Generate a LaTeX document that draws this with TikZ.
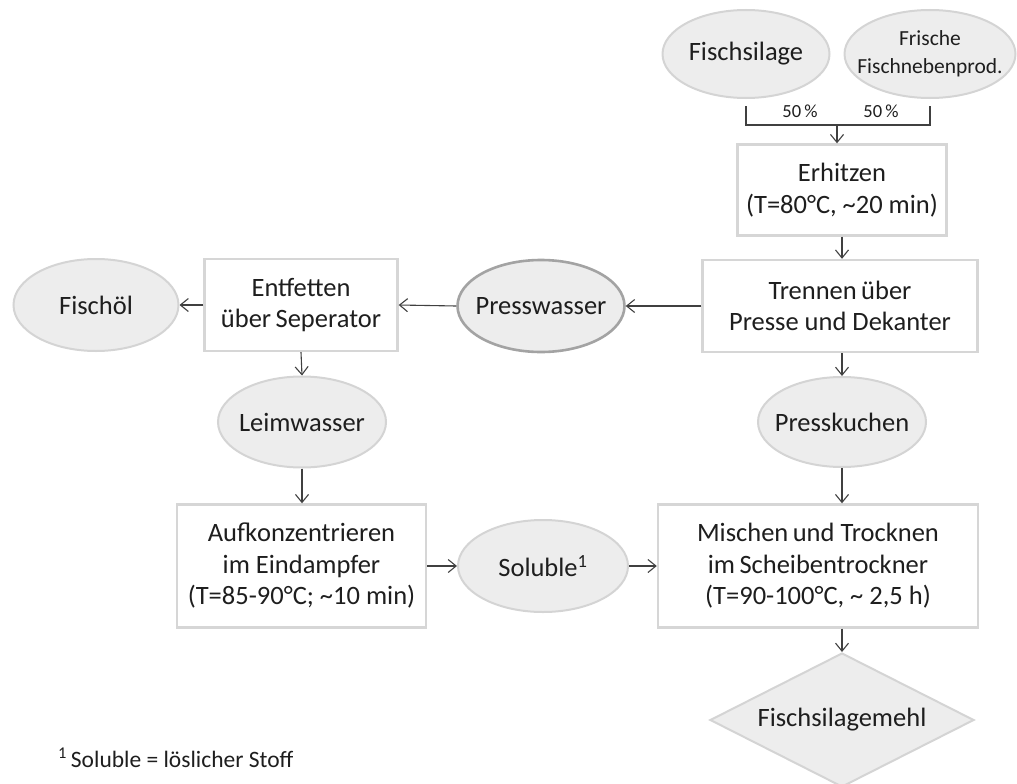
\documentclass[tikz,border=0pt]{standalone}
\usepackage{fontspec}
\setmainfont{Carlito}
\usepackage{tikz}
\usetikzlibrary{positioning,arrows.meta,shapes.geometric}
\usepackage{xcolor}
\definecolor{boxline}{HTML}{D6D6D6}
\definecolor{ellfill}{HTML}{EDEDED}
\definecolor{ellline}{HTML}{D4D4D4}
\definecolor{darkline}{HTML}{A3A3A3}
\definecolor{arrowcol}{HTML}{404040}
\definecolor{txt}{HTML}{1E1E1E}

\begin{document}
\begin{tikzpicture}[
  x=1pt, y=-1pt,
  font=\fontsize{26.5}{31.5}\selectfont, text=txt,
  fl/.style   = {-{Straight Barb[length=8pt,width=13pt]}, draw=arrowcol, line width=1.1pt},
  box/.style  = {draw=boxline, line width=2.4pt, fill=white, align=center, inner sep=2pt},
  ell/.style  = {ellipse, draw=ellline, line width=2pt, fill=ellfill, align=center,
                 inner xsep=-16pt, inner ysep=0pt},
  lbl/.style  = {font=\fontsize{18.5}{20}\selectfont, inner sep=1pt},
]
\useasboundingbox (0,0) rectangle (1017,784);

% ================= inputs ==============================================
\node[ell, minimum width=167pt, minimum height=88pt] (silage) at (746,54) {Fischsilage};
\node[ell, minimum width=171pt, minimum height=88pt,
      font=\fontsize{21.5}{28}\selectfont] (frisch) at (930,54) {Frische\\Fischnebenprod.};

\coordinate (join) at (837,125);
\node[lbl] (pctA) at (800,111) {50\,\%};
\node[lbl] (pctB) at (881,111) {50\,\%};

% ================= right column ========================================
\node[box, minimum width=209pt, minimum height=91pt] (erhitzen) at (842,190)
  {Erhitzen\\(T=80°C, \textasciitilde20 min)};
\node[box, minimum width=275pt, minimum height=92pt] (trennen) at (840,306)
  {Trennen\,über\\Presse und Dekanter};
\node[ell, minimum width=168pt, minimum height=90pt] (presskuchen) at (842,422) {Presskuchen};
\node[box, minimum width=320pt, minimum height=123pt] (mischen) at (818,566)
  {Mischen\,und Trocknen\\im\,Scheibentrockner\\(T=90-100°C, \textasciitilde\ 2,5 h)};
\node[diamond, aspect=1.97, fill=ellfill, draw=ellline, line width=2pt, inner sep=0pt,
      minimum width=264pt, minimum height=134pt] (mehl) at (842,720) {Fischsilagemehl};

% ================= left column =========================================
\node[ell, minimum width=167pt, minimum height=92pt, draw=darkline, line width=2.6pt]
  (presswasser) at (541,306) {Presswasser};
\node[box, minimum width=193pt, minimum height=92pt] (entfetten) at (301,305)
  {Entfetten\\über\,Seperator};
\node[ell, minimum width=165pt, minimum height=92pt] (fischoel) at (96,305) {Fischöl};
\node[ell, minimum width=168pt, minimum height=91pt] (leim) at (302,422) {Leimwasser};
\node[box, minimum width=249pt, minimum height=123pt] (aufkonz) at (301.5,566)
  {Aufkonzentrieren\\im Eindampfer\\(T=85-90°C; \textasciitilde10 min)};
\node[ell, minimum width=170pt, minimum height=92pt] (soluble) at (543,566)
  {Soluble\textsuperscript{1}};

% footnote
\node[anchor=west, inner sep=0pt, font=\fontsize{23.5}{26}\selectfont] (foot) at (58,758)
  {\textsuperscript{1}\,Soluble = löslicher Stoff};

% ================= edges ===============================================
\draw[draw=arrowcol, line width=1.1pt] ([yshift=-7pt]silage.south) |- (join);
\draw[draw=arrowcol, line width=1.1pt] ([yshift=-7pt]frisch.south) |- (join);
\draw[fl] (join) -- (join |- erhitzen.north);
\draw[fl] (erhitzen) -- (erhitzen.south |- trennen.north);
\draw[fl] (trennen.west) -- (presswasser.east);
\draw[fl] (presswasser.west) -- (entfetten.east);
\draw[fl] (entfetten.west) -- (fischoel.east);
\draw[fl] (entfetten.south) -- (leim.north);
\draw[fl] (leim.south) -- (leim.south |- aufkonz.north);
\draw[fl] (aufkonz.east) -- (soluble.west);
\draw[fl] (soluble.east) -- (mischen.west);
\draw[fl] (presskuchen.north |- trennen.south) -- (presskuchen.north);
\draw[fl] (presskuchen.south) -- (presskuchen.south |- mischen.north);
\draw[fl] (mehl.north |- mischen.south) -- (mehl.north);

\end{tikzpicture}
\end{document}
